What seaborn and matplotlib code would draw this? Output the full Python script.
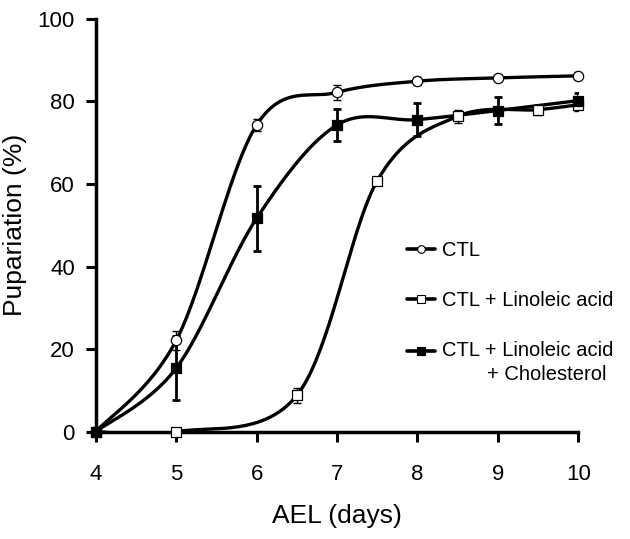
import numpy as np
import pandas as pd
import matplotlib
matplotlib.use("Agg")
import matplotlib.pyplot as plt
import seaborn as sns
from matplotlib.lines import Line2D
from matplotlib.legend_handler import HandlerLine2D
from matplotlib.transforms import Affine2D

# ---- data ----
ctl_x = [4, 5, 6, 7, 8, 9, 10]
ctl_y = [0, 22.1, 74.3, 82.2, 84.9, 85.7, 86.2]
ctl_e = [0, 2.4, 1.5, 1.8, 1.0, 0.7, 1.0]

la_x = [4, 5, 6.5, 7.5, 8.5, 9.5, 10]
la_y = [0, 0, 8.8, 60.8, 76.4, 78.0, 79.2]
la_e = [0, 0.6, 1.8, 0.8, 1.6, 1.2, 1.6]

lac_x = [4, 5, 6, 7, 8, 9, 10]
lac_y = [0, 15.4, 51.7, 74.3, 75.6, 77.8, 80.2]
lac_e = [0, 7.7, 7.9, 3.9, 4.0, 3.2, 1.8]

labels = ["CTL", "CTL + Linoleic acid", "CTL + Linoleic acid\n        + Cholesterol"]
x_ticks = [4, 5, 6, 7, 8, 9, 10]
y_ticks = [0, 20, 40, 60, 80, 100]


def smooth(xs, ys, n=40):
    """Catmull-Rom rendering of a smoothed line through the data points."""
    P = np.column_stack([xs, ys]).astype(float)
    P = np.vstack([P[0], P, P[-1]])
    out = []
    for i in range(1, len(P) - 2):
        p0, p1, p2, p3 = P[i - 1], P[i], P[i + 1], P[i + 2]
        t = np.linspace(0, 1, n)[:, None]
        seg = 0.5 * ((2 * p1) + (-p0 + p2) * t + (2 * p0 - 5 * p1 + 4 * p2 - p3) * t ** 2
                     + (-p0 + 3 * p1 - 3 * p2 + p3) * t ** 3)
        out.append(seg if i == 1 else seg[1:])
    s = np.vstack(out)
    return s[:, 0], s[:, 1]


class FirstLineHandler(HandlerLine2D):
    """Aligns the legend handle with the first line of a two-line label."""
    def __init__(self, shift_px=0, **kw):
        super().__init__(**kw)
        self.shift_px = shift_px

    def create_artists(self, legend, orig_handle, xdescent, ydescent, width,
                       height, fontsize, trans):
        t2 = trans + Affine2D().translate(0, self.shift_px)
        return super().create_artists(legend, orig_handle, xdescent, ydescent,
                                      width, height, fontsize, t2)


sns.set_style("ticks")
plt.rcParams['font.family'] = ['Liberation Sans', 'DejaVu Sans']
plt.rcParams['text.color'] = 'black'
plt.rcParams['axes.labelcolor'] = 'black'

fig = plt.figure(figsize=(6.30, 5.39), dpi=100)
ax = fig.add_axes([0.152, 0.199, 0.766, 0.766])

series = [
    (ctl_x, ctl_y, ctl_e, "o", "white"),
    (la_x, la_y, la_e, "s", "white"),
    (lac_x, lac_y, lac_e, "s", "black"),
]

handles = []
for (xs, ys, es, mk, fc), lab in zip(series, labels):
    sx, sy = smooth(xs, ys)
    df = pd.DataFrame({"x": sx, "y": sy})
    sns.lineplot(data=df, x="x", y="y", ax=ax, color="black", lw=2.4,
                 sort=False, estimator=None, zorder=2)
    ax.errorbar(xs, ys, yerr=es, fmt="none", ecolor="black",
                elinewidth=2.0 if fc == "black" else 1.0,
                capsize=3, capthick=2.0 if fc == "black" else 1.0, zorder=3)
    pdf = pd.DataFrame({"x": xs, "y": ys})
    sns.scatterplot(data=pdf, x="x", y="y", ax=ax, marker=mk, s=55,
                    facecolor=fc, edgecolor="black", linewidth=0.9,
                    zorder=4, clip_on=False)
    handles.append(Line2D([], [], color="black", lw=2.6, marker=mk,
                          markersize=5.5, markerfacecolor=fc,
                          markeredgecolor="black", markeredgewidth=0.8))

ax.set_xlim(4, 10)
ax.set_ylim(0, 100)
ax.set_xticks(x_ticks)
ax.set_yticks(y_ticks)
ax.set_xlabel("AEL (days)", fontsize=19, labelpad=14)
ax.set_ylabel("Pupariation (%)", fontsize=19, labelpad=8)
ax.tick_params(axis="both", labelsize=16, width=2.2, length=7, direction="out",
               pad=8, color="black", labelcolor="black")
ax.tick_params(axis="x", pad=16)
for s in ["left", "bottom"]:
    ax.spines[s].set_linewidth(2.5)
    ax.spines[s].set_color("black")
sns.despine(ax=ax)

leg = ax.legend(handles, labels, loc="upper left", bbox_to_anchor=(0.645, 0.463),
                frameon=False, fontsize=14.5, handlelength=1.4, handletextpad=0.35,
                labelspacing=1.55, borderaxespad=0, borderpad=0,
                handler_map={handles[2]: FirstLineHandler(shift_px=12.5)})
leg.get_texts()[2].set_linespacing(1.35)

fig.savefig("out.png", dpi=100)
